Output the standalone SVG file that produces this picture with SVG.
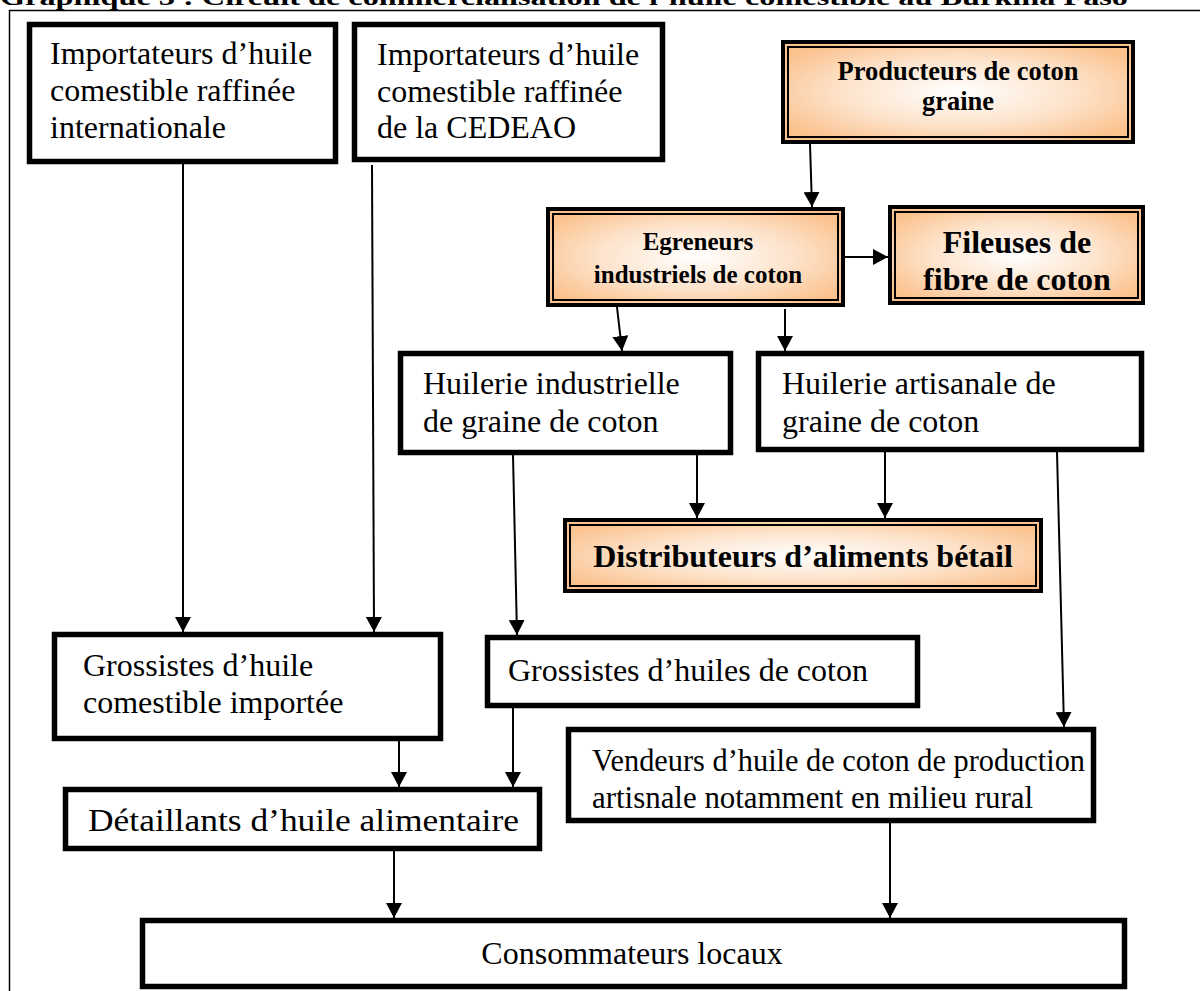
<svg xmlns="http://www.w3.org/2000/svg" width="1200" height="991" viewBox="0 0 1200 991">
<defs>
<radialGradient id="og" cx="50%" cy="50%" r="60%">
<stop offset="0" stop-color="#FFFFFF"/>
<stop offset="0.55" stop-color="#FDE3CB"/>
<stop offset="1" stop-color="#FBC28E"/>
</radialGradient>
<marker id="ah" markerUnits="userSpaceOnUse" markerWidth="16" markerHeight="16" refX="15" refY="8" orient="auto">
<path d="M0,0 L15,8 L0,16 z" fill="#000"/>
</marker>
<style>
.bx{fill:#fff;stroke:#000;stroke-width:5.5}
.ob{fill:url(#og);stroke:#000;stroke-width:4}
.ib{fill:none;stroke:#000;stroke-width:2}
.t{font-family:"Liberation Serif","Times New Roman",serif;font-size:32px;fill:#000}
.b{font-family:"Liberation Serif","Times New Roman",serif;font-weight:bold;fill:#000}
.c{stroke:#000;stroke-width:2;fill:none;marker-end:url(#ah)}
</style>
</defs>
<rect width="1200" height="991" fill="#fff"/>
<text class="b" x="0" y="5" font-size="24" textLength="1128" lengthAdjust="spacingAndGlyphs">Graphique 3 : Circuit de commercialisation de l’huile comestible au Burkina Faso</text>
<path d="M9.5,991 V10.5 H1200" fill="none" stroke="#000" stroke-width="1.5"/>

<g id="imp-intl">
<rect class="bx" x="29.5" y="24.5" width="306" height="137"/>
<text class="t" x="50" y="64">Importateurs d’huile</text>
<text class="t" x="50" y="101">comestible raffinée</text>
<text class="t" x="50" y="138">internationale</text>
</g>
<g id="imp-cedeao">
<rect class="bx" x="354.5" y="24.5" width="308" height="135"/>
<text class="t" x="377" y="65">Importateurs d’huile</text>
<text class="t" x="377" y="102">comestible raffinée</text>
<text class="t" x="377" y="138">de la CEDEAO</text>
</g>
<g id="producteurs">
<rect class="ob" x="783" y="42" width="350" height="100"/>
<rect class="ib" x="788" y="47" width="340" height="90"/>
<text class="b" x="958" y="80" font-size="26.5" text-anchor="middle">Producteurs de coton</text>
<text class="b" x="958" y="110" font-size="26.5" text-anchor="middle">graine</text>
</g>
<g id="egreneurs">
<rect class="ob" x="548" y="209" width="295" height="96"/>
<rect class="ib" x="553" y="214" width="285" height="86"/>
<text class="b" x="698" y="250" font-size="25" text-anchor="middle">Egreneurs</text>
<text class="b" x="698" y="283" font-size="25" text-anchor="middle">industriels de coton</text>
</g>
<g id="fileuses">
<rect class="ob" x="890" y="207" width="253" height="96"/>
<rect class="ib" x="895" y="212" width="243" height="86"/>
<text class="b" x="1017" y="253" font-size="32" text-anchor="middle">Fileuses de</text>
<text class="b" x="1017" y="290" font-size="32" text-anchor="middle">fibre de coton</text>
</g>
<g id="huilerie-ind">
<rect class="bx" x="400.5" y="353.5" width="330" height="99"/>
<text class="t" x="423" y="394">Huilerie industrielle</text>
<text class="t" x="423" y="432">de graine de coton</text>
</g>
<g id="huilerie-art">
<rect class="bx" x="758.5" y="353.5" width="383" height="96"/>
<text class="t" x="782" y="394">Huilerie artisanale de</text>
<text class="t" x="782" y="432">graine de coton</text>
</g>
<g id="distributeurs">
<rect class="ob" x="565" y="520" width="476" height="71"/>
<rect class="ib" x="570" y="525" width="466" height="61"/>
<text class="b" x="803" y="567" font-size="32" text-anchor="middle">Distributeurs d’aliments bétail</text>
</g>
<g id="grossistes-imp">
<rect class="bx" x="54.5" y="634.5" width="386" height="104"/>
<text class="t" x="83" y="676">Grossistes d’huile</text>
<text class="t" x="83" y="713">comestible importée</text>
</g>
<g id="grossistes-coton">
<rect class="bx" x="487.5" y="637.5" width="430" height="68"/>
<text class="t" x="508" y="681">Grossistes d’huiles de coton</text>
</g>
<g id="detaillants">
<rect class="bx" x="65.5" y="789.5" width="474" height="59"/>
<text class="t" x="88" y="831" textLength="431" lengthAdjust="spacingAndGlyphs">Détaillants d’huile alimentaire</text>
</g>
<g id="vendeurs">
<rect class="bx" x="568.5" y="729.5" width="525" height="91"/>
<text class="t" x="592" y="771" textLength="493" lengthAdjust="spacingAndGlyphs">Vendeurs d’huile de coton de production</text>
<text class="t" x="592" y="808" textLength="441" lengthAdjust="spacingAndGlyphs">artisnale notamment en milieu rural</text>
</g>
<g id="consommateurs">
<rect class="bx" x="142.5" y="920.5" width="982" height="66"/>
<text class="t" x="632" y="964" text-anchor="middle">Consommateurs locaux</text>
</g>

<g id="connectors">
<line class="c" x1="183" y1="164" x2="183" y2="632"/>
<line class="c" x1="372" y1="165" x2="374" y2="632"/>
<line class="c" x1="810" y1="144" x2="812" y2="207"/>
<line class="c" x1="845" y1="257" x2="888" y2="257"/>
<line class="c" x1="617" y1="307" x2="622" y2="351"/>
<line class="c" x1="785" y1="309" x2="785" y2="351"/>
<line class="c" x1="697" y1="452" x2="697" y2="518"/>
<line class="c" x1="885" y1="452" x2="885" y2="518"/>
<line class="c" x1="513" y1="455" x2="517" y2="635"/>
<line class="c" x1="1057" y1="452" x2="1064" y2="727"/>
<line class="c" x1="399" y1="741" x2="399" y2="787"/>
<line class="c" x1="513" y1="708" x2="513" y2="787"/>
<line class="c" x1="394" y1="851" x2="394" y2="918"/>
<line class="c" x1="890" y1="823" x2="890" y2="918"/>
</g>
</svg>
